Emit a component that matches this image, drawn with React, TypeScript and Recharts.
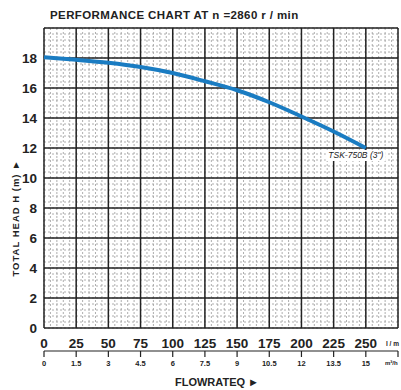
import React from 'react'
import { LineChart, Line, XAxis, YAxis, CartesianGrid, LabelList } from 'recharts'

// pump curve
const flowLpm = [0, 25, 50, 75, 100, 125, 150, 175, 200, 225, 250]
const headM = [18.05, 17.88, 17.68, 17.4, 17.0, 16.45, 15.85, 15.05, 14.1, 13.1, 12.0]

const lpmTicks = [0, 25, 50, 75, 100, 125, 150, 175, 200, 225, 250]
const m3hTicks = ['0', '1.5', '3', '4.5', '6', '7.5', '9', '10.5', '12', '13.5', '15', '']
const headTicks = [0, 2, 4, 6, 8, 10, 12, 14, 16, 18]
const modelName = 'TSK-750B (3")'

const FONT = '"Liberation Sans Narrow", "Liberation Sans", Arial, sans-serif'
const INK = '#222'

const majorX = Array.from({ length: 12 }, (_, i) => i * 25)
const majorY = Array.from({ length: 11 }, (_, i) => i * 2)
const minorX = Array.from({ length: 56 }, (_, i) => i * 5)
const minorY = Array.from({ length: 51 }, (_, i) => +(i * 0.4).toFixed(1))

const data = flowLpm.map((q, i) => ({ q, h: headM[i] }))

const ModelLabel = (props: any) => {
  const { x, y, index } = props
  if (index !== data.length - 1) return null
  return (
    <g>
      <rect x={x - 40} y={y + 2} width={60} height={11} fill="#fff" />
      <text
        x={x - 10}
        y={y + 10}
        textAnchor="middle"
        fontSize={8.5}
        fontStyle="italic"
        fontFamily='"Liberation Sans", Arial, sans-serif'
        fill={INK}
      >
        {modelName}
      </text>
    </g>
  )
}

export default function App() {
  return (
    <div
      style={{
        position: 'absolute',
        left: 0,
        top: 0,
        width: 401,
        height: 390,
        overflow: 'hidden',
        background: '#fff',
        fontFamily: FONT,
        color: INK,
      }}
    >
      <LineChart width={401} height={390} data={data} margin={{ top: 28, right: 3, left: 0, bottom: 20 }}>
        <CartesianGrid
          xAxisId="lpm"
          verticalValues={minorX}
          horizontalValues={minorY}
          stroke="#9a9a9a"
          strokeWidth={0.8}
          strokeDasharray="2 2"
        />
        <CartesianGrid
          xAxisId="lpm"
          verticalValues={majorX}
          horizontalValues={majorY}
          stroke={INK}
          strokeWidth={1.5}
        />
        <XAxis
          xAxisId="lpm"
          dataKey="q"
          type="number"
          domain={[0, 275]}
          ticks={lpmTicks}
          interval={0}
          height={23}
          axisLine={false}
          tickLine={false}
          tickSize={0}
          tickMargin={10}
          tick={{ fill: INK, fontSize: 13.5, fontWeight: 700, fontFamily: FONT }}
        />
        <XAxis
          xAxisId="m3h"
          dataKey="q"
          type="number"
          domain={[0, 275]}
          ticks={[...lpmTicks, 275]}
          interval={0}
          height={19}
          axisLine={{ stroke: INK, strokeWidth: 1.2 }}
          tickLine={{ stroke: INK, strokeWidth: 1.2 }}
          tickSize={6}
          tickMargin={4}
          tickFormatter={(v: number) => m3hTicks[Math.round(v / 25)]}
          tick={{ fill: INK, fontSize: 7.5, fontWeight: 700, fontFamily: FONT }}
        />
        <YAxis
          type="number"
          domain={[0, 20]}
          ticks={headTicks}
          interval={0}
          width={44}
          axisLine={false}
          tickLine={false}
          tickSize={0}
          tickMargin={7}
          tick={{ fill: INK, fontSize: 13.5, fontWeight: 700, fontFamily: FONT }}
        />
        <Line
          xAxisId="lpm"
          type="monotone"
          dataKey="h"
          stroke="#1a7cc2"
          strokeWidth={4}
          dot={false}
          isAnimationActive={false}
        >
          <LabelList dataKey="h" content={ModelLabel} />
        </Line>
      </LineChart>

      <div
        style={{
          position: 'absolute',
          left: 50,
          top: 9,
          fontSize: 11.5,
          lineHeight: '12px',
          fontWeight: 700,
          letterSpacing: 0.4,
          whiteSpace: 'nowrap',
        }}
      >
        PERFORMANCE CHART AT n =2860 r / min
      </div>

      <div
        style={{
          position: 'absolute',
          left: 16 - 100,
          top: 218 - 6,
          width: 200,
          height: 12,
          lineHeight: '12px',
          textAlign: 'center',
          fontSize: 9.5,
          fontWeight: 700,
          letterSpacing: 1,
          whiteSpace: 'nowrap',
          transform: 'rotate(-90deg)',
        }}
      >
        TOTAL HEAD H (m) ►
      </div>

      <div
        style={{
          position: 'absolute',
          left: 117,
          width: 200,
          top: 376,
          textAlign: 'center',
          fontSize: 11,
          lineHeight: '12px',
          fontWeight: 700,
          whiteSpace: 'nowrap',
        }}
      >
        FLOWRATEQ ►
      </div>

      <div style={{ position: 'absolute', left: 386, top: 340, fontSize: 6.5, fontWeight: 700, whiteSpace: 'nowrap' }}>
        l / m
      </div>
      <div style={{ position: 'absolute', left: 385, top: 360, fontSize: 6, fontWeight: 700, whiteSpace: 'nowrap' }}>
        m³/h
      </div>
    </div>
  )
}
